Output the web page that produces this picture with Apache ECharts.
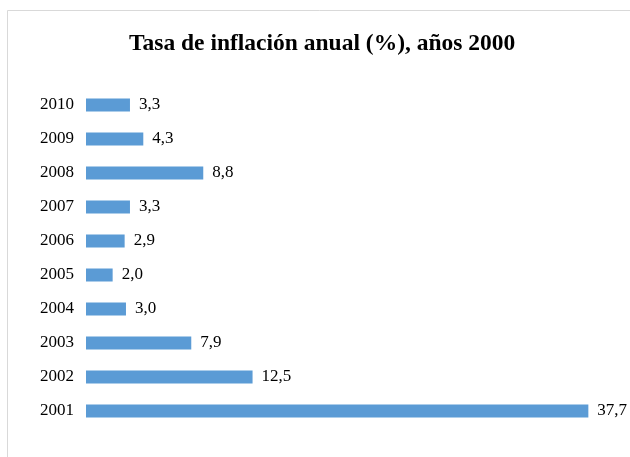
<!DOCTYPE html>
<html>
<head>
<meta charset="utf-8">
<script src="https://cdn.jsdelivr.net/npm/echarts@6/dist/echarts.min.js"></script>
<style>
  html, body { margin: 0; padding: 0; background: #fff; }
  #chart { width: 630px; height: 457px; }
</style>
</head>
<body>
<div id="chart"></div>
<script>
// datos (de abajo hacia arriba)
const years = ['2001', '2002', '2003', '2004', '2005', '2006', '2007', '2008', '2009', '2010'];
const inflation = [37.7, 12.5, 7.9, 3.0, 2.0, 2.9, 3.3, 8.8, 4.3, 3.3];

const serif = '"Liberation Serif", "DejaVu Serif", serif';

let chart = echarts.init(document.getElementById('chart'));
let option = {
  backgroundColor: '#fff',
  animation: false,
  title: {
    text: 'Tasa de inflación anual (%), años 2000',
    left: 124,
    top: 27,
    textStyle: {
      fontFamily: serif,
      fontSize: 23.5,
      fontWeight: 'bold',
      color: '#000',
    },
  },
  graphic: [
    {
      type: 'rect',
      shape: { x: 7.5, y: 10.5, width: 640, height: 460 },
      style: { fill: 'none', stroke: '#d9d9d9', lineWidth: 1 },
      silent: true,
    },
  ],
  grid: {
    left: 86,
    right: 11,
    top: 88,
    bottom: 29,
  },
  xAxis: {
    type: 'value',
    min: 0,
    max: 40,
    show: false,
  },
  yAxis: {
    type: 'category',
    data: years,
    axisLine: { show: false },
    axisTick: { show: false },
    axisLabel: {
      margin: 12,
      fontFamily: serif,
      fontSize: 17,
      color: '#000',
    },
  },
  series: [
    {
      type: 'bar',
      data: inflation,
      barWidth: 13,
      itemStyle: { color: '#5B9BD5' },
      label: {
        show: true,
        position: 'right',
        distance: 9,
        fontFamily: serif,
        fontSize: 17,
        color: '#000',
        formatter: function (p) {
          return p.value.toFixed(1).replace('.', ',');
        },
      },
    },
  ],
};
chart.setOption(option);
window.addEventListener('resize', () => {
  chart.resize();
});
</script>
</body>
</html>
